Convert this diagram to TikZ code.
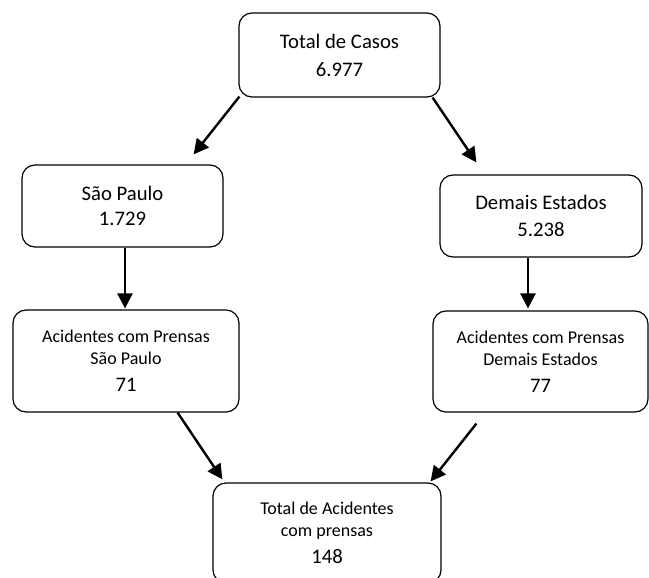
\documentclass[tikz,border=0pt]{standalone}
\usepackage{fontspec}
\setmainfont{Carlito}
\usetikzlibrary{arrows.meta,calc}
\tikzset{
  box/.style={draw=black, line width=1.2pt, rounded corners=13pt, inner sep=0pt, align=center, fill=white},
  bigtxt/.style={font=\fontsize{20.7}{27}\selectfont},
  midtxt/.style={font=\fontsize{18}{22}\selectfont},
  arr/.style={line width=2.4pt, -{Triangle[length=15pt,width=15pt]}, shorten <=0pt}
}
\begin{document}
\begin{tikzpicture}[x=1pt,y=-1pt]
\useasboundingbox (0,0) rectangle (649,578);
\clip (0,0) rectangle (649,578);
\fill[white] (0,0) rectangle (649,578);
\node[box, bigtxt, minimum width=201pt, minimum height=84pt] (top) at (339.5,55) {Total de Casos\\[1pt]6.977};
\node[box, bigtxt, minimum width=201pt, minimum height=82pt] (sp) at (122.5,206) {São Paulo\\[-1.5pt]1.729};
\node[box, bigtxt, minimum width=202pt, minimum height=82pt] (de) at (541,216) {Demais Estados\\[-0.5pt]5.238};
\node[box, midtxt, minimum width=226pt, minimum height=102pt] (asp) at (126,361) {Acidentes com Prensas\\São Paulo\\[5pt]\fontsize{20.7}{22}\selectfont 71};
\node[box, midtxt, minimum width=215pt, minimum height=101pt] (ade) at (540.5,361.5) {Acidentes com Prensas\\Demais Estados\\[5pt]\fontsize{20.7}{22}\selectfont 77};
\node[box, midtxt, minimum width=228pt, minimum height=100pt] (bot) at (327,533) {Total de Acidentes\\com prensas\\[5pt]\fontsize{20.7}{22}\selectfont 148};
\draw[arr] ($(top.south west)+(1,-1)$) -- ($(sp.north east)+(-30,-10)$);
\draw[arr] ($(top.south east)+(-8,0)$) -- ($(de.north west)+(37,-12)$);
\draw[arr] ($(sp.south)+(2.5,0)$) -- ($(asp.north)+(-1,-1)$);
\draw[arr] ($(de.south)+(-13,0)$) -- ($(ade.north)+(-12.5,-2)$);
\draw[arr] ($(asp.south east)+(-62,0)$) -- ($(bot.north west)+(10,-3)$);
\draw[arr] ($(ade.south west)+(44,11)$) -- ($(bot.north east)+(-11,-1)$);
\end{tikzpicture}
\end{document}
